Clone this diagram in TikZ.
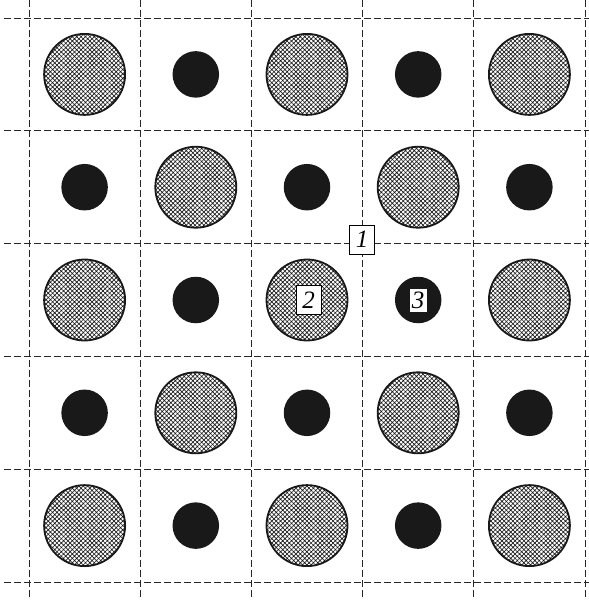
\documentclass[tikz,border=0pt]{standalone}
\usepackage{fontspec}
\setmainfont{Liberation Serif}
\usetikzlibrary{patterns.meta}
\tikzset{
  gridline/.style={dash pattern=on 6.5pt off 3.5pt, line width=0.8pt, black!85},
  hatchcirc/.style={circle, draw=black!90, line width=1.8pt, minimum size=81pt, inner sep=0pt,
     pattern={Hatch[angle=45,distance=3.1pt,line width=0.65pt]}, pattern color=black!90},
  dotcirc/.style={circle, fill=black!90, minimum size=46.5pt, inner sep=0pt},
  lab/.style={draw=black, line width=0.6pt, fill=white, inner sep=2pt, minimum width=25pt, minimum height=29pt,
     font=\fontsize{25}{25}\selectfont\itshape},
  labw/.style={fill=white, inner sep=1pt, minimum width=17pt, minimum height=23pt,
     font=\fontsize{25}{25}\selectfont\itshape}
}
\begin{document}
\begin{tikzpicture}[x=1pt,y=-1pt]
\useasboundingbox (0,0) rectangle (589,600);
% grid
\foreach \i in {0,...,5}{
  \pgfmathsetmacro{\xx}{29+111.2*\i}
  \pgfmathsetmacro{\yy}{18+112.8*\i}
  \draw[gridline] (\xx,0) -- (\xx,600);
  \draw[gridline] (4,\yy) -- (589,\yy);
}
% circles
\foreach \r in {0,...,4}{
  \foreach \c in {0,...,4}{
    \pgfmathsetmacro{\cx}{29+111.2*(\c+0.5)}
    \pgfmathsetmacro{\cy}{18+112.8*(\r+0.5)}
    \pgfmathtruncatemacro{\parity}{mod(\r+\c,2)}
    \ifnum\parity=0
      \node[hatchcirc] (c\r\c) at (\cx,\cy) {};
    \else
      \node[dotcirc] (c\r\c) at (\cx,\cy) {};
    \fi
  }
}
\node[lab] (l1) at (362,239.5) {1};
\node[lab] (l2) at ([xshift=1.5pt]c22.center) {2};
\node[labw] (l3) at (c23.center) {3};
\end{tikzpicture}
\end{document}
